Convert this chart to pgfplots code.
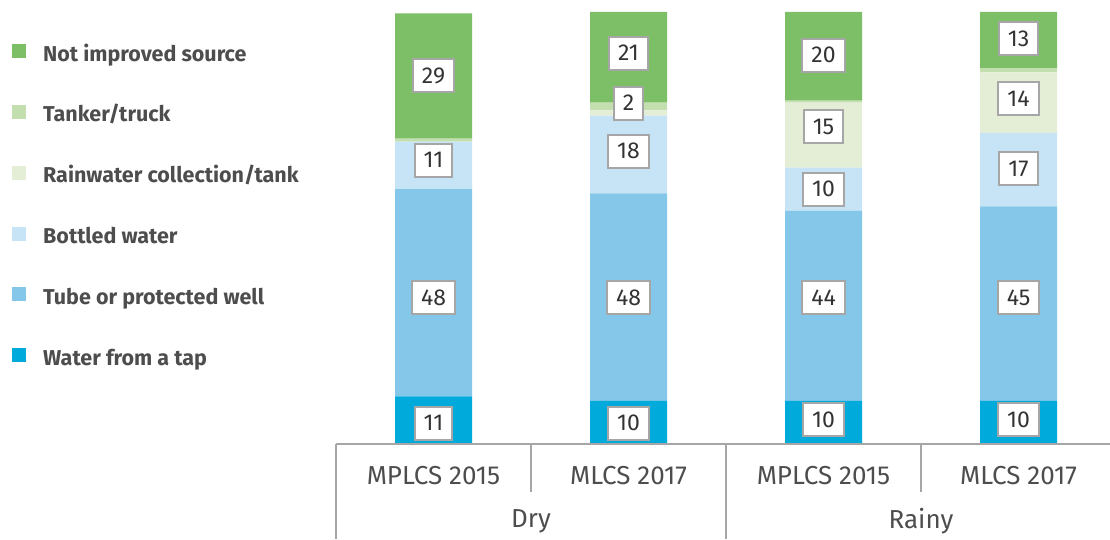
\documentclass[border=0pt]{standalone}
\usepackage{pgfplots}
\pgfplotsset{compat=1.18}
\usepackage{fontspec}
\setmainfont{Fira Sans}
\definecolor{cNot}{HTML}{7CBF66}
\definecolor{cTank}{HTML}{C3DFAF}
\definecolor{cRain}{HTML}{E4EED6}
\definecolor{cBott}{HTML}{C6E4F5}
\definecolor{cTube}{HTML}{84C7E8}
\definecolor{cTap}{HTML}{00AADB}
\definecolor{lineGray}{HTML}{A6A6A6}
\definecolor{txtGray}{HTML}{4D4D4D}
\begin{document}
\begin{tikzpicture}[x=1pt,y=1pt]
\useasboundingbox (0,0) rectangle (1110,539);
\begin{axis}[
  at={(336pt,95pt)}, anchor=south west,
  scale only axis, width=780pt, height=432pt,
  xmin=-0.5, xmax=3.5, ymin=0, ymax=100,
  ybar stacked, bar width=77pt,
  clip=false,
  hide y axis,
  axis line style={draw=none},
  xtick={0,1,2,3},
  xticklabels={MPLCS 2015, MLCS 2017, MPLCS 2015, MLCS 2017},
  major tick length=0pt,
  xticklabel style={anchor=center, yshift=-32pt, font=\fontsize{26}{30}\selectfont, text=txtGray},
  legend style={at={(-0.4154,0.926)}, anchor=north west, draw=none, fill=none,
    inner sep=0pt, row sep=38.8pt, column sep=17pt,
    font=\fontsize{21.5}{25}\selectfont\bfseries, text=txtGray,
    nodes={inner sep=0pt, text height=15pt, text depth=5pt},
    cells={anchor=west}},
  reverse legend,
  legend image code/.code={\fill[#1] (0pt,-2pt) rectangle (14pt,12pt);},
]
\addplot[fill=cTap, draw=none] coordinates {(0,11) (1,10) (2,10) (3,10)};
\addplot[fill=cTube, draw=none] coordinates {(0,48) (1,48) (2,44) (3,45)};
\addplot[fill=cBott, draw=none] coordinates {(0,11) (1,18) (2,10) (3,17)};
\addplot[fill=cRain, draw=none] coordinates {(0,0) (1,1.2) (2,15) (3,14)};
\addplot[fill=cTank, draw=none] coordinates {(0,0.7) (1,1.8) (2,0.5) (3,1)};
\addplot[fill=cNot, draw=none] coordinates {(0,29) (1,21) (2,20.5) (3,13)};
\legend{Water from a tap, Tube or protected well, Bottled water, Rainwater collection/tank, Tanker/truck, Not improved source}
\end{axis}
\begin{axis}[
  at={(336pt,95pt)}, anchor=south west,
  scale only axis, width=780pt, height=432pt,
  xmin=-0.5, xmax=3.5, ymin=0, ymax=100,
  clip=false, hide axis,
]
\addplot[draw=none, mark=none, nodes near coords, point meta=explicit symbolic,
  every node near coord/.append style={anchor=center, draw=lineGray, line width=2pt, fill=white,
    inner xsep=9pt, inner ysep=0pt, minimum height=33pt, text=black!80,
    font=\fontsize{23}{27}\selectfont}]
table[meta=lab] {
x y lab
0 4.86 11
0 33.8 48
0 65.7 11
0 85.2 29
1 4.86 10
1 33.8 48
1 67.8 18
1 78.9 2
1 90.5 21
2 5.56 10
2 33.8 44
2 59.0 10
2 73.4 15
2 90.0 20
3 5.56 10
3 33.8 45
3 63.7 17
3 79.9 14
3 93.75 13
};
\end{axis}
\draw[lineGray, line width=2pt] (336,95) -- (1110,95);
\draw[lineGray, line width=2pt] (336,95) -- (336,0);
\draw[lineGray, line width=2pt] (726,95) -- (726,0);
\draw[lineGray, line width=2pt] (531,95) -- (531,47);
\draw[lineGray, line width=2pt] (921,95) -- (921,47);
\node[text=txtGray, font=\fontsize{26}{30}\selectfont] at (531,18) {Dry};
\node[text=txtGray, font=\fontsize{26}{30}\selectfont] at (921,18) {Rainy};
\end{tikzpicture}
\end{document}
